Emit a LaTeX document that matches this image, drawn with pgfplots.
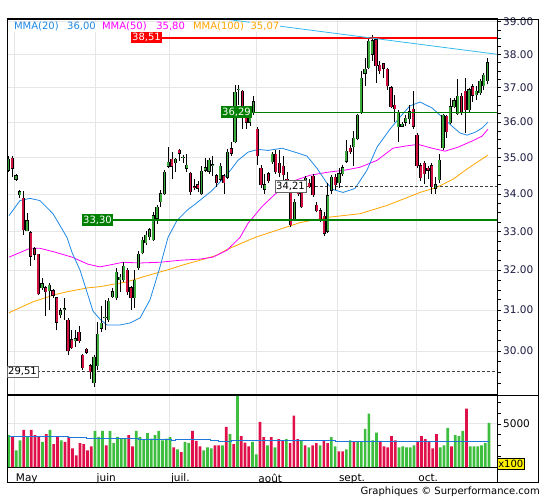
\documentclass[border=0pt]{standalone}
\usepackage{pgfplots}
\pgfplotsset{compat=1.18}
\usepackage{pgfplotstable}
\usepackage{fontspec}
\setmainfont{DejaVu Sans}
\definecolor{cgreen}{HTML}{3DAA3D}
\definecolor{cred}{HTML}{D0103F}
\definecolor{vgreen}{HTML}{3EBE3E}
\definecolor{vred}{HTML}{E0104A}
\definecolor{mmaA}{HTML}{1E88E5}
\definecolor{mmaB}{HTML}{FF00FF}
\definecolor{mmaC}{HTML}{FFA500}
\definecolor{trend}{HTML}{33BBEE}
\definecolor{gridc}{HTML}{E6E6E6}
\definecolor{lvlgreen}{HTML}{008000}
\definecolor{ticktext}{HTML}{1A1A40}
\definecolor{volavg}{HTML}{1E78D8}

\pgfplotstableread{
k O H L C
0 34.65 35.05 34.60 34.95
2 34.40 34.55 34.35 34.50
3 33.98 34.12 33.90 34.06
5 33.02 33.48 33.00 33.28
9 31.55 31.80 31.50 31.65
11 31.47 31.66 31.00 31.62
14 30.88 31.05 30.80 30.98
15 31.00 31.30 30.75 31.03
18 30.25 30.50 30.10 30.30
23 29.25 29.90 29.15 29.85
24 29.65 30.70 29.55 30.40
25 30.55 31.10 30.45 30.68
26 30.80 31.25 30.50 30.82
27 30.75 31.30 30.70 31.22
28 31.33 31.55 31.30 31.45
29 31.30 32.05 31.25 31.95
30 31.75 31.90 31.45 31.82
31 31.75 32.20 31.70 32.10
34 31.30 32.00 31.05 31.75
35 32.05 32.50 32.00 32.40
36 32.44 32.85 32.40 32.77
37 32.70 33.00 32.65 32.90
38 32.85 33.10 32.78 33.05
39 32.78 33.50 32.75 33.42
40 33.35 33.70 33.20 33.65
41 33.78 34.10 33.65 34.00
42 34.00 34.65 33.97 34.60
43 34.75 35.30 34.70 34.88
45 34.85 35.00 34.60 34.95
47 35.00 35.08 34.85 35.02
48 34.70 35.10 34.60 34.78
52 34.00 34.75 33.98 34.62
53 34.65 35.00 34.60 34.72
54 34.62 35.00 34.55 34.93
55 34.78 35.05 34.50 34.80
57 34.40 34.85 34.35 34.75
59 34.45 35.25 34.40 35.15
61 35.44 37.07 35.40 36.88
62 36.95 37.07 36.50 36.97
65 36.00 36.35 35.90 36.25
66 36.27 36.75 36.20 36.60
69 34.13 34.55 34.00 34.25
71 34.88 35.15 34.82 35.10
77 33.31 33.85 33.28 33.78
80 34.10 34.50 34.05 34.42
86 33.00 34.30 32.95 33.95
87 34.10 34.52 34.00 34.45
89 34.30 34.70 34.15 34.55
90 34.55 34.78 34.50 34.72
91 34.90 35.50 34.85 35.18
93 35.30 35.76 34.75 35.55
94 35.52 36.25 35.50 36.20
95 36.30 37.50 36.25 37.28
96 37.43 37.90 37.05 37.55
97 37.60 38.50 37.55 38.40
98 38.00 38.60 37.80 38.42
105 35.87 36.35 35.45 36.28
106 35.88 36.00 35.85 35.95
107 36.00 36.20 35.90 36.12
108 36.10 36.50 35.95 36.30
115 34.15 34.45 34.00 34.25
116 34.38 35.10 34.30 34.93
117 35.27 36.25 35.20 36.20
119 35.98 36.70 35.95 36.45
120 36.45 36.70 36.40 36.62
121 36.25 37.25 36.22 36.75
124 36.35 37.00 36.30 36.95
126 36.80 37.05 36.65 36.90
127 36.85 37.25 36.80 37.20
128 37.05 37.45 36.95 37.38
129 37.20 37.90 37.10 37.75
}\candG

\pgfplotstableread{
k O H L C
1 34.98 35.05 34.45 34.70
4 33.88 34.08 32.90 33.04
6 32.97 33.00 32.10 32.35
7 32.55 32.60 32.25 32.40
8 32.40 32.42 31.38 31.40
10 31.55 31.60 30.85 31.45
12 31.48 31.52 31.30 31.36
13 31.30 31.32 30.50 30.70
16 30.75 30.80 29.90 30.00
17 30.27 30.50 30.05 30.08
19 30.45 30.60 30.20 30.25
20 29.90 29.92 29.55 29.60
21 30.05 30.08 29.93 29.97
22 29.65 29.70 29.35 29.51
32 32.00 32.05 31.38 31.45
33 31.55 31.60 31.00 31.30
44 34.95 35.15 34.40 34.75
46 35.20 35.25 34.90 35.12
49 34.57 34.60 33.98 34.05
50 34.20 34.40 34.10 34.18
51 34.25 34.35 34.05 34.15
56 34.50 34.55 34.20 34.30
58 34.50 34.55 34.00 34.30
60 35.25 35.45 35.05 35.12
63 36.90 36.95 35.80 36.25
64 36.25 36.40 35.80 36.00
67 35.80 35.85 34.80 35.05
68 34.70 34.78 34.15 34.25
70 34.55 34.60 34.30 34.35
72 35.10 35.20 34.55 34.60
73 34.85 35.20 34.45 34.57
74 34.75 35.05 34.35 34.52
75 34.40 34.60 34.10 34.25
76 34.10 34.15 33.12 33.17
78 34.10 34.15 33.95 34.00
79 34.25 34.30 33.63 33.65
81 34.30 34.40 34.15 34.20
82 34.48 34.55 33.92 33.97
83 33.70 33.78 33.50 33.55
84 33.55 33.62 33.25 33.30
85 33.40 33.50 32.88 32.95
88 34.45 34.55 34.10 34.25
92 35.27 35.35 35.10 35.17
99 38.45 38.50 37.15 37.65
100 37.68 37.80 37.40 37.50
101 37.72 37.75 37.30 37.58
102 37.55 37.60 36.95 37.05
103 37.00 37.05 36.40 36.45
104 36.48 36.80 36.00 36.38
109 36.38 36.90 35.80 35.88
110 35.63 35.70 34.70 34.77
111 34.77 34.85 34.35 34.43
112 34.85 34.90 34.28 34.55
113 34.70 34.75 34.40 34.65
114 34.77 34.85 34.00 34.20
118 36.17 36.22 35.55 35.73
122 36.75 36.85 36.20 36.30
123 36.90 37.30 35.70 36.35
125 37.03 37.10 36.60 36.78
}\candR

\pgfplotstableread{
k v
0 3700
2 1930
3 3100
5 3500
9 2900
11 4300
14 3100
23 4180
24 3500
25 4180
27 4180
28 2760
29 3500
30 3300
31 3300
34 4180
35 3500
36 3230
37 3940
38 3300
39 3700
40 4180
41 3100
42 3300
43 3470
45 2050
47 2900
48 2760
52 1930
53 2290
54 2170
57 2520
59 3800
61 8250
65 2900
66 1460
69 2520
71 2290
74 3230
78 3100
80 2290
83 2520
86 3470
87 2400
90 2050
91 3100
93 2900
94 2900
95 4410
96 6190
97 3100
98 3980
104 2290
105 2400
106 2290
107 2290
108 2520
115 2290
116 2520
117 4530
119 3700
120 3590
121 4180
123 2400
124 2400
125 2400
126 2520
127 2760
128 5120
}\volG

\pgfplotstableread{
k v
1 3500
4 4300
6 4300
7 3700
8 3500
10 3800
12 2650
13 3500
15 2900
16 3500
17 2170
18 1340
19 2760
20 2640
21 1930
22 2400
26 2520
32 3700
33 2400
44 2290
46 1730
49 4180
50 3030
51 2400
55 2520
56 2520
58 4650
60 2640
62 3590
63 2840
64 2400
67 5240
68 3470
70 3470
72 3230
73 3030
75 2760
76 5950
77 3230
79 2520
81 2520
82 2760
84 3030
85 2760
88 1810
89 1810
92 2900
99 3030
100 2400
101 2290
102 3590
103 3100
109 2900
110 3590
111 3230
112 2900
113 2170
114 3800
118 2400
122 6780
}\volR

\pgfplotsset{
  candle/.style 2 args={draw=none, mark=none, forget plot,
    error bars/.cd, y dir=plus, y explicit, error mark=none,
    error bar style={draw=#1, line width=#2}},
}

\begin{document}
\begin{tikzpicture}
\useasboundingbox (0pt,0pt) rectangle (545pt,500pt);
% ---------------- price panel ----------------
\begin{axis}[
  at={(7pt,105pt)}, anchor=south west,
  scale only axis, width=490pt, height=376pt,
  xmin=7, xmax=497,
  ymode=log, ymin=28.97, ymax=39.09,
  axis line style={black, line width=0.9pt},
  xtick={14.3,95,169.3,256.7,337.3,416.7}, xticklabels={},
  xtick style={draw=none},
  ytick={30,31,32,33,34,35,36,37,38,39},
  yticklabels={30.00,31.00,32.00,33.00,34.00,35.00,36.00,37.00,38.00,39.00},
  minor ytick={29.25,29.5,29.75,30.25,30.5,30.75,31.25,31.5,31.75,32.25,32.5,32.75,33.25,33.5,33.75,34.25,34.5,34.75,35.25,35.5,35.75,36.25,36.5,36.75,37.25,37.5,37.75,38.25,38.5,38.75},
  ytick pos=right, yticklabel pos=right,
  tick align=outside, major tick length=4pt, minor tick length=4pt,
  ytick style={black, line width=0.6pt},
  yticklabel style={font=\fontsize{10.5}{12}\selectfont, text=ticktext, anchor=west, inner sep=0pt, xshift=2pt},
  grid=major, major grid style={gridc, line width=0.8pt},
]
% moving averages
\addplot[mmaC, line width=0.8pt] coordinates {(9,30.93) (33,31.20) (55,31.38) (67,31.45) (88,31.55) (100,31.58) (127,31.70) (150,31.88) (167,32.00) (183,32.13) (200,32.25) (217,32.38) (227,32.53) (255,32.84) (278,33.04) (300,33.23) (327,33.37) (360,33.47) (387,33.69) (407,33.90) (420,34.04) (437,34.18) (453,34.40) (468,34.70) (488,35.07)};
\addplot[mmaB, line width=0.8pt] coordinates {(9,32.33) (30,32.56) (40,32.56) (55,32.46) (72,32.33) (88,32.15) (100,32.08) (110,32.13) (123,32.20) (140,32.18) (160,32.20) (180,32.25) (200,32.28) (213,32.33) (227,32.51) (240,32.84) (248,33.21) (262,33.66) (275,33.99) (290,34.32) (310,34.51) (327,34.59) (345,34.65) (360,34.73) (377,34.92) (393,35.26) (405,35.32) (418,35.37) (432,35.26) (445,35.18) (458,35.29) (472,35.46) (482,35.60) (488,35.80)};
\addplot[mmaA, line width=0.8pt] coordinates {(9,33.42) (20,33.82) (30,33.88) (40,33.82) (53,33.47) (67,32.84) (72,32.45) (80,32.00) (85,31.60) (93,30.97) (100,30.77) (107,30.63) (120,30.63) (130,30.68) (140,30.80) (150,31.25) (160,32.08) (168,32.84) (177,33.29) (187,33.56) (195,33.72) (212,34.09) (228,34.56) (238,34.92) (248,35.15) (258,35.23) (268,35.20) (282,35.26) (295,35.15) (307,35.04) (317,34.70) (327,34.29) (333,34.12) (343,34.04) (355,34.15) (367,34.65) (377,35.29) (390,35.80) (400,36.15) (410,36.47) (420,36.58) (432,36.41) (442,36.15) (452,35.89) (460,35.69) (467,35.63) (475,35.71) (482,35.83) (488,36.00)};
% level lines
\addplot[black!75, line width=0.7pt, dash pattern=on 3pt off 2pt] coordinates {(305,34.21) (497,34.21)};
\addplot[black!75, line width=0.7pt, dash pattern=on 3pt off 2pt] coordinates {(37,29.51) (497,29.51)};
% wicks
\addplot[candle={black}{0.7pt}]
  table[x expr={8.5+3.713*\thisrow{k}}, y=L, y error expr={\thisrow{H}-\thisrow{L}}] {\candG};
\addplot[candle={black}{0.7pt}]
  table[x expr={8.5+3.713*\thisrow{k}}, y=L, y error expr={\thisrow{H}-\thisrow{L}}] {\candR};
% bodies
\addplot[candle={black}{3.2pt}]
  table[x expr={8.5+3.713*\thisrow{k}}, y expr={\thisrow{O}-0.01}, y error expr={\thisrow{C}-\thisrow{O}+0.02}] {\candG};
\addplot[candle={cgreen}{1.8pt}]
  table[x expr={8.5+3.713*\thisrow{k}}, y=O, y error expr={\thisrow{C}-\thisrow{O}}] {\candG};
\addplot[candle={black}{3.2pt}]
  table[x expr={8.5+3.713*\thisrow{k}}, y expr={\thisrow{C}-0.01}, y error expr={\thisrow{O}-\thisrow{C}+0.02}] {\candR};
\addplot[candle={cred}{1.8pt}]
  table[x expr={8.5+3.713*\thisrow{k}}, y=C, y error expr={\thisrow{O}-\thisrow{C}}] {\candR};
% levels on top
\addplot[red, line width=2pt] coordinates {(162,38.51) (497,38.51)};
\addplot[lvlgreen, line width=1pt] coordinates {(252,36.29) (497,36.29)};
\addplot[lvlgreen, line width=2.5pt] coordinates {(113,33.30) (497,33.30)};
\addplot[trend, line width=0.8pt] coordinates {(225,39.08) (497,38.00)};
\coordinate (lA) at (axis cs:146.5,38.51);
\coordinate (lB) at (axis cs:236.5,36.29);
\coordinate (lC) at (axis cs:97.5,33.30);
\coordinate (lD) at (axis cs:290.5,34.21);
\coordinate (lE) at (axis cs:22.5,29.51);
\end{axis}
% ---------------- volume panel ----------------
\begin{axis}[
  at={(7pt,33pt)}, anchor=south west,
  scale only axis, width=490pt, height=72pt,
  xmin=7, xmax=497, ymin=0, ymax=8350,
  axis line style={black, line width=0.9pt},
  xtick={14.3,95,169.3,256.7,337.3,416.7},
  xticklabels={May,juin,juil.,août,sept.,oct.},
  xtick style={draw=none},
  xticklabel style={font=\fontsize{10.5}{12}\selectfont, anchor=north west, inner sep=0pt, xshift=1.5pt, yshift=-2.5pt},
  ytick={5000}, yticklabels={5000},
  minor ytick={1250,2500,3750,6250,7500},
  ytick pos=right, yticklabel pos=right,
  tick align=outside, major tick length=4pt, minor tick length=4pt,
  ytick style={black, line width=0.6pt},
  yticklabel style={font=\fontsize{10.5}{12}\selectfont, text=black, anchor=west, inner sep=0pt, xshift=2pt},
  grid=major, major grid style={gridc, line width=0.8pt},
]
\addplot[ybar, bar width=2.7pt, bar shift=0pt, fill=vgreen, draw=none]
  table[x expr={8.7+3.752*\thisrow{k}}, y=v] {\volG};
\addplot[ybar, bar width=2.7pt, bar shift=0pt, fill=vred, draw=none]
  table[x expr={8.7+3.752*\thisrow{k}}, y=v] {\volR};
\addplot[volavg, line width=0.8pt] coordinates {(8.7,3590) (68,3590) (68,3430) (86,3430) (86,3300) (138,3300) (138,3230) (171,3230) (171,3100) (175,3100) (175,3230) (210,3230) (210,3030) (218,3030) (218,2960) (231,2960) (231,3030) (238,3030) (238,3100) (335,3100) (335,2960) (489,2960)};
\end{axis}
% ---------------- frame and annotations ----------------
\draw[black, line width=0.9pt] (7pt,18pt) rectangle (538pt,481pt);
\draw[black, line width=0.9pt] (497pt,105pt) -- (538pt,105pt);
\draw[black, line width=0.9pt] (497pt,18pt) -- (497pt,481pt);
\begin{scope}[every node/.style={font=\fontsize{10}{12}\selectfont, inner xsep=1.3pt, inner ysep=1.6pt}]
\node[fill=red, text=white] at (lA) {38,51};
\node[fill=lvlgreen, text=white] at (lB) {36,29};
\node[fill=lvlgreen, text=white] at (lC) {33,30};
\node[fill=white, draw=black!60, line width=0.6pt, text=black, inner xsep=1.1pt, inner ysep=1.4pt] at (lD) {34,21};
\node[fill=white, draw=black!60, line width=0.6pt, text=black, inner xsep=1.1pt, inner ysep=1.4pt] at (lE) {29,51};
\end{scope}
\node[fill=yellow, draw=black, line width=0.5pt, inner xsep=1pt, inner ysep=1.5pt, font=\fontsize{10}{12}\selectfont, anchor=west] at (497pt,36.5pt) {x100};
\begin{scope}[every node/.style={anchor=base west, fill=white, inner sep=0.6pt, font=\fontsize{10}{12}\selectfont}]
\node[text=mmaA] at (13.3pt,470pt) {MMA(20)};
\node[text=mmaA] at (66.4pt,470pt) {36,00};
\node[text=mmaB] at (101.3pt,470pt) {MMA(50)};
\node[text=mmaB] at (155.5pt,470pt) {35,80};
\node[text=mmaC] at (192.2pt,470pt) {MMA(100)};
\node[text=mmaC] at (249.8pt,470pt) {35,07};
\end{scope}
\node[anchor=base east, inner sep=0pt, font=\fontsize{10}{12}\selectfont] at (540pt,5.5pt) {Graphiques © Surperformance.com};
\end{tikzpicture}
\end{document}
